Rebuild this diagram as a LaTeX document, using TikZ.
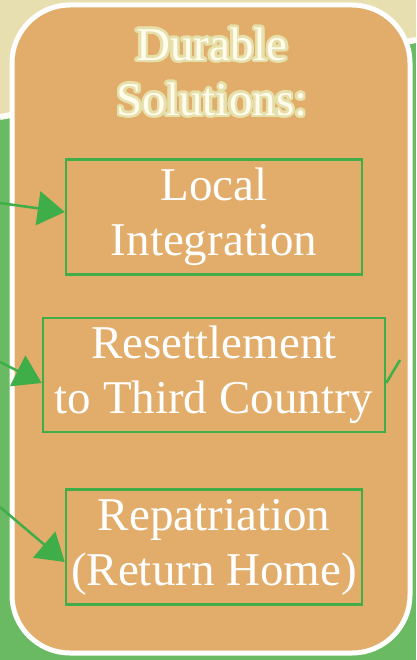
\documentclass[tikz,border=0pt]{standalone}
\usepackage{fontspec}
\setmainfont{Liberation Serif}
\usetikzlibrary{arrows.meta}
\definecolor{sand}{HTML}{E7DFB0}
\definecolor{meadow}{HTML}{69BA62}
\definecolor{clay}{HTML}{E2AD6A}
\definecolor{leaf}{HTML}{3FAE49}
\definecolor{titleedge}{HTML}{E6E0AA}
\definecolor{titlefill}{HTML}{FFFCEE}
\begin{document}
\begin{tikzpicture}[x=1pt,y=-1pt,
    option/.style={draw=leaf, line width=2.5pt, text=white, align=center, inner sep=0pt,
      font=\fontsize{47}{55}\selectfont},
    heading/.style={align=center, inner sep=0pt, font=\fontsize{47}{55}\selectfont},
    feed/.style={leaf, line width=2.5pt, -{Triangle[length=27pt,width=34pt]}}]
  \useasboundingbox (0,0) rectangle (416,660);
  % background
  \fill[meadow] (0,0) rectangle (416,660);
  \fill[sand] (0,0) -- (416,0) -- (416,40) -- (0,117) -- cycle;
  \draw[white!90!sand, line width=6pt] (0,117) -- (416,40);
  % panel
  \draw[white, line width=5pt, fill=clay, rounded corners=58pt] (12,5) rectangle (410,653);
  % title with outline
  \foreach \a in {0,15,...,345}
    \node[heading, text=titleedge, shift={(\a:2.5pt)}] at (212,72) {Durable\\Solutions:};
  \node[heading, text=titlefill] (title) at (212,72) {Durable\\Solutions:};
  % options
  \node[option, minimum width=296pt, minimum height=115pt] (local) at (214,217) {Local\\Integration};
  \node[option, minimum width=342pt, minimum height=114pt] (resettle) at (214,375) {Resettlement\\to Third Country};
  \node[option, minimum width=296pt, minimum height=115pt] (return) at (214,547) {Repatriation\\(Return Home)};
  % connectors
  \coordinate (in1) at (0,203);
  \coordinate (in2) at (0,362);
  \coordinate (in3) at (0,507);
  \coordinate (out2) at (400,360);
  \draw[feed] (in1) -- ([yshift=5pt]local.west);
  \draw[feed] (in2) -- ([yshift=-8pt]resettle.west);
  \draw[feed] (in3) -- ([yshift=-15pt]return.west);
  \draw[leaf, line width=2.5pt] ([yshift=-8pt]resettle.east) -- (out2);
\end{tikzpicture}
\end{document}
